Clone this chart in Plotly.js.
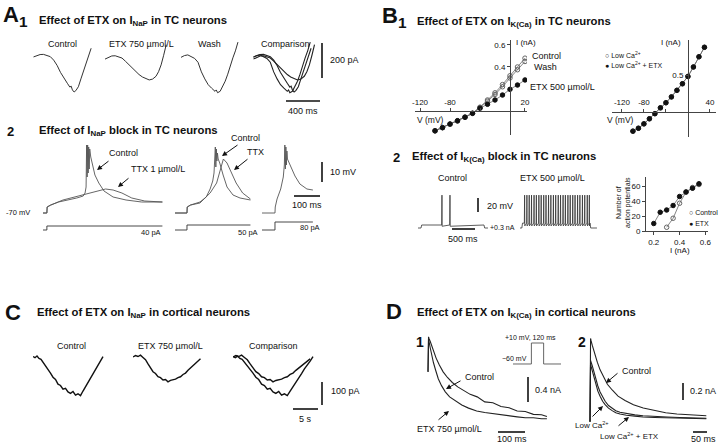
<!DOCTYPE html>
<html>
<head>
<meta charset="utf-8">
<script src="https://cdn.plot.ly/plotly-3.0.1.min.js"></script>
<style>
  html, body { margin: 0; padding: 0; background: #fff; }
  #chart { width: 720px; height: 446px; }
</style>
</head>
<body>
<div id="chart"></div>
<script>
// ETX figure: I_NaP / I_K(Ca) recordings in TC and cortical neurons

// ---- A1: I_NaP ramps, TC neurons (ms, pA)
const a1CtrlT = [0, 40, 80, 120, 160, 200, 240, 280, 320, 360, 400, 430, 445, 460, 480, 500, 530, 560, 590, 620, 650, 680];
const a1CtrlI = [0, 8, 14, 15, 8, 2, -18, -48, -88, -122, -150, -172, -166, -188, -200, -192, -170, -125, -80, -30, 10, 50];
const a1EtxT = [0, 40, 80, 120, 160, 200, 240, 280, 320, 360, 400, 440, 480, 520, 560, 600, 630, 660, 690, 720];
const a1EtxI = [-12, -2, 6, 7, 2, -6, -24, -44, -66, -84, -100, -114, -124, -131, -126, -110, -84, -45, 10, 70];
const a1WashT = [0, 40, 80, 120, 160, 200, 240, 280, 320, 360, 400, 415, 430, 460, 490, 520, 550, 580, 610, 640, 670];
const a1WashI = [-2, 8, 12, 4, -8, -30, -85, -125, -158, -178, -196, -188, -204, -196, -170, -138, -98, -45, -5, 35, 85];

// ---- A2: voltage responses to current steps (ms, mV) and the steps (ms, pA)
const a2LeftT = [0, 15, 16, 30, 60, 100, 130, 155, 162, 166, 168, 170, 172, 174, 176, 178, 180, 184, 190, 200, 215, 235, 270, 320, 380, 460];
const a2LeftCtrl = [-70, -70, -67, -66, -64.5, -63.5, -62.5, -61.5, -60, -57, -36, -52, -36, -50, -37, -48, -38, -42, -46, -51, -55, -59, -62, -63.5, -64.5, -64.5];
const a2LeftTtxT = [0, 15, 16, 30, 77, 154, 204, 241, 270, 304, 342, 392, 460];
const a2LeftTtx = [-70, -70, -67, -66, -63.5, -61, -59.5, -58, -58.5, -60, -62.5, -64, -64.5];
const a2MidT = [0, 46, 47, 60, 96, 120, 135, 145, 150, 153, 155, 157, 159, 161, 163, 166, 172, 185, 200, 223, 250, 290];
const a2MidCtrl = [-70, -70, -67, -66, -64.5, -62, -58, -54, -50, -45, -37, -47, -38, -44, -40, -43, -45, -51, -57, -61, -62.5, -63.5];
const a2MidTtxT = [0, 46, 47, 60, 96, 135, 160, 172, 180, 186, 200, 215, 235, 260, 290];
const a2MidTtx = [-70, -70, -67, -66, -65, -60, -55, -50, -46, -43, -45, -49, -55, -60, -63];
const a2RightT = [0, 50, 51, 58, 72, 82, 86, 88, 90, 92, 94, 96, 98, 102, 115, 127, 146, 173, 196];
const a2RightV = [-70, -70, -67, -63, -58, -52, -46, -36, -48, -37, -46, -39, -43, -44, -48, -51.5, -55.5, -58, -58.5];
const a2StepLeftT = [0, 15, 15, 460];
const a2StepLeftI = [0, 0, 40, 40];
const a2StepMidT = [0, 46, 46, 290];
const a2StepMidI = [0, 0, 50, 50];
const a2StepRightT = [0, 50, 50, 196];
const a2StepRightI = [0, 0, 80, 80];

// ---- B1: I-V relations (mV, nA)
const b1Volt = [-100, -90, -80, -70, -60, -50, -40, -30, -20, -10, 0, 10, 20];
const b1Ctrl = [-0.18, -0.15, -0.12, -0.09, -0.055, -0.02, 0.035, 0.10, 0.165, 0.24, 0.32, 0.40, 0.48];
const b1Wash = [-0.18, -0.15, -0.12, -0.09, -0.056, -0.022, 0.03, 0.09, 0.15, 0.22, 0.30, 0.375, 0.45];
const b1Etx = [-0.18, -0.152, -0.118, -0.088, -0.057, -0.021, 0.025, 0.061, 0.10, 0.145, 0.197, 0.236, 0.282];
const b1LowCaVolt = [-100, -90, -80, -70, -60, -50, -40, -30, -20, -10, 0, 10, 20, 30];
const b1LowCa = [-0.27, -0.23, -0.17, -0.10, -0.03, 0.05, 0.12, 0.20, 0.29, 0.38, 0.48, 0.61, 0.75, 0.88];
const b1LowCaEtx = [-0.27, -0.23, -0.17, -0.10, -0.03, 0.05, 0.12, 0.20, 0.29, 0.38, 0.48, 0.61, 0.75, 0.88];

// ---- B2: firing during a +0.3 nA step (ms, mV) and spike counts
const b2CtrlSpikes = [520, 694];
const b2EtxSpikes = [100, 150, 200, 250, 305, 355, 410, 460, 515, 565, 620, 670, 725, 775,
                     830, 880, 935, 985, 1040, 1090, 1145, 1195, 1250, 1300, 1355, 1405, 1460, 1505];
const b2CountCtrlI = [0.3, 0.35, 0.4, 0.45, 0.5, 0.55];
const b2CountCtrlN = [5, 17, 37, 52, 58, 62];
const b2CountEtxI = [0.2, 0.25, 0.3, 0.35, 0.4, 0.45, 0.5, 0.55];
const b2CountEtxN = [10, 25, 28, 34, 46, 52, 57, 63];

// ---- C: I_NaP in cortical neurons (s, pA)
const cCtrlT = [0, 0.4, 0.8, 1.2, 1.6, 2.0, 2.5, 3.0, 3.5, 4.0, 4.5, 5.0, 5.5, 6.0, 6.5, 7.0, 7.5, 8.0, 8.5, 9.0, 9.5, 10.0, 10.5, 11.0, 11.5, 12.0, 12.5, 13.0, 13.5, 14.0];
const cCtrlI = [2, -3, 4, -6, -10, -22, -38, -56, -70, -88, -98, -118, -124, -140, -136, -152, -158, -150, -166, -160, -168, -148, -130, -112, -90, -72, -52, -36, -18, 2];
const cEtxT = [0, 0.5, 1.0, 1.5, 2.0, 2.5, 3.0, 3.5, 4.0, 4.5, 5.0, 5.5, 6.0, 6.5, 7.0, 7.5, 8.0, 8.5, 9.0, 9.5, 10.0, 10.5, 11.0, 11.5, 12.0, 12.5, 13.0, 13.5];
const cEtxI = [0, 6, 2, 8, -2, -12, -30, -46, -64, -72, -86, -90, -100, -98, -108, -102, -100, -96, -90, -86, -76, -70, -58, -48, -36, -26, -16, -8];

// ---- D: I_K(Ca) tail currents in cortical neurons (ms, nA)
const d1T = [0, 2, 4, 8, 13, 20, 30, 42, 56, 72, 90, 110, 132, 156, 182, 210, 240, 270, 300, 330, 360, 390, 420, 440];
const d1Ctrl = [0.77, 1.33, 1.30, 1.26, 1.19, 1.11, 0.99, 0.88, 0.77, 0.68, 0.60, 0.53, 0.47, 0.41, 0.37, 0.29, 0.275, 0.215, 0.195, 0.145, 0.135, 0.09, 0.085, 0.055];
const d1EtxT = [0, 2, 4, 8, 13, 20, 28, 38, 50, 64, 80, 100, 125, 150, 180, 210, 240, 270, 300, 330, 360, 390, 420, 440];
const d1Etx = [0.77, 1.30, 1.25, 1.16, 1.05, 0.92, 0.80, 0.66, 0.55, 0.45, 0.37, 0.31, 0.24, 0.19, 0.145, 0.12, 0.10, 0.08, 0.065, 0.05, 0.035, 0.035, 0.02, 0.02];
const d1ProtoT = [0, 180, 180, 300, 300, 470];
const d1ProtoV = [-60, -60, 10, 10, -60, -60];
const d2CtrlT = [0, 2, 4, 8, 12, 18, 26, 36, 48, 62, 80, 100, 125, 155, 190, 230, 270, 310, 350, 390, 415];
const d2Ctrl = [-0.02, 0.96, 0.93, 0.88, 0.83, 0.76, 0.68, 0.59, 0.51, 0.42, 0.35, 0.28, 0.23, 0.18, 0.14, 0.11, 0.085, 0.07, 0.06, 0.05, 0.05];
const d2LowT = [0, 2, 4, 8, 14, 21, 28, 36, 45, 54, 66, 79, 92, 107, 130, 160, 189, 230, 275, 320, 360, 403, 415];
const d2LowCa = [-0.02, 0.70, 0.68, 0.64, 0.56, 0.47, 0.40, 0.33, 0.27, 0.22, 0.17, 0.14, 0.11, 0.09, 0.075, 0.06, 0.05, 0.04, 0.035, 0.03, 0.025, 0.02, 0.02];
const d2LowCaEtx = [-0.02, 0.66, 0.63, 0.58, 0.50, 0.41, 0.34, 0.28, 0.22, 0.18, 0.14, 0.11, 0.085, 0.07, 0.055, 0.045, 0.035, 0.03, 0.025, 0.02, 0.02, 0.015, 0.015];

// ------------------------------------------------------------------
const W = 720, H = 446;
const FONT = 'Liberation Sans, Arial, sans-serif';
const INK = '#111';
const TITLE = 11.3;

const layout = {
    width: W, height: H,
    margin: { l: 0, r: 0, t: 0, b: 0 },
    paper_bgcolor: '#fff', plot_bgcolor: 'rgba(0,0,0,0)',
    showlegend: false, hovermode: false,
    font: { family: FONT, size: 9, color: INK },
    annotations: [], shapes: []
};
const traces = [];

let axN = 0;
// subplot placed by pixel box (x0..x1, y0 top..y1 bottom)
function panel(x0, x1, y0, y1, xr, yr, xo, yo) {
    axN++;
    const s = axN === 1 ? '' : String(axN);
    layout['xaxis' + s] = Object.assign({ domain: [x0 / W, x1 / W], range: xr, anchor: 'y' + s, visible: false, fixedrange: true }, xo || {});
    layout['yaxis' + s] = Object.assign({ domain: [1 - y1 / H, 1 - y0 / H], range: yr, anchor: 'x' + s, visible: false, fixedrange: true }, yo || {});
    return { xaxis: 'x' + s, yaxis: 'y' + s };
}

function line(p, x, y, color, width) {
    traces.push({ type: 'scatter', mode: 'lines', x: x, y: y, xaxis: p.xaxis, yaxis: p.yaxis,
        line: { color: color, width: width }, hoverinfo: 'skip' });
}

function dots(p, x, y, symbol, color) {
    traces.push({ type: 'scatter', mode: 'lines+markers', x: x, y: y, xaxis: p.xaxis, yaxis: p.yaxis,
        line: { color: '#666', width: 0.8 },
        marker: { symbol: symbol, size: 4.5, color: color, line: { color: color, width: 1 } },
        hoverinfo: 'skip' });
}

function note(x, y, text, size, anchor, extra) {
    layout.annotations.push(Object.assign({
        xref: 'paper', yref: 'paper', x: x / W, y: 1 - y / H, text: text, showarrow: false,
        xanchor: anchor || 'center', yanchor: 'middle',
        font: { family: FONT, size: size || 9, color: INK }
    }, extra || {}));
}

function arrow(hx, hy, tx, ty) {
    layout.annotations.push({
        xref: 'paper', yref: 'paper', x: hx / W, y: 1 - hy / H,
        axref: 'pixel', ayref: 'pixel', ax: tx - hx, ay: ty - hy,
        text: '', showarrow: true, arrowhead: 2, arrowsize: 1, arrowwidth: 1,
        arrowcolor: INK, standoff: 0
    });
}

function bar(x0, y0, x1, y1) {
    layout.shapes.push({ type: 'line', xref: 'paper', yref: 'paper',
        x0: x0 / W, y0: 1 - y0 / H, x1: x1 / W, y1: 1 - y1 / H,
        line: { color: INK, width: 1.6 } });
}

// build a membrane trace from spike times
function spikeTrain(tEnd, tOn, tOff, spikes, rest, plateau, peak, ahp) {
    const t = [0, tOn, tOn + 15], v = [rest, rest, plateau];
    spikes.forEach(s => { t.push(s - 6, s, s + 4); v.push(plateau, peak, ahp); });
    t.push(tOff, tOff + 15, tEnd);
    v.push(plateau, rest, rest);
    return { t, v };
}

// ---- Panel A1
note(1, 0, '<b>A<sub>1</sub></b>', 22, 'left', { yanchor: 'top' });
note(37, 21, '<b>Effect of ETX on I<sub>NaP</sub> in TC neurons</b>', TITLE, 'left');
const a1Y = [-245.5, 108.5];
const pA1c = panel(33.3, 93, 38, 100, [0, 702], a1Y);
const pA1e = panel(105, 168, 38, 100, [0, 741], a1Y);
const pA1w = panel(181, 240, 38, 100, [0, 694], a1Y);
const pA1m = panel(253.3, 315, 38, 100, [0, 726], a1Y);
line(pA1c, a1CtrlT, a1CtrlI, '#333', 1);
line(pA1e, a1EtxT, a1EtxI, '#333', 1);
line(pA1w, a1WashT, a1WashI, '#333', 1);
line(pA1m, a1CtrlT, a1CtrlI, '#222', 1.1);
line(pA1m, a1WashT, a1WashI, '#222', 1.1);
line(pA1m, a1EtxT, a1EtxI, '#222', 1.1);
note(63, 44, 'Control');
note(141, 44, 'ETX 750 µmol/L');
note(209, 44, 'Wash');
note(285, 44, 'Comparison');
bar(322, 43, 322, 78); note(328, 60, '200 pA', 9, 'left');
bar(286, 101, 320, 101); note(303, 111, '400 ms');

// ---- Panel A2
note(5, 131, '<b>2</b>', 13, 'left');
note(37, 131, '<b>Effect of I<sub>NaP</sub> block in TC neurons</b>', TITLE, 'left');
const a2Y = [-71.5, -31];
const a2S = [-20, 120];
const pA2l = panel(43, 165, 135, 216, [0, 470], a2Y);
const pA2m = panel(175, 252, 135, 216, [0, 296], a2Y);
const pA2r = panel(262, 316, 135, 216, [0, 208], a2Y);
const pA2ls = panel(43, 165, 218, 232, [0, 470], a2S);
const pA2ms = panel(175, 252, 218, 232, [0, 296], a2S);
const pA2rs = panel(262, 316, 218, 232, [0, 208], a2S);
line(pA2l, a2LeftTtxT, a2LeftTtx, '#555', 0.9);
line(pA2l, a2LeftT, a2LeftCtrl, '#555', 0.9);
line(pA2m, a2MidTtxT, a2MidTtx, '#555', 0.9);
line(pA2m, a2MidT, a2MidCtrl, '#555', 0.9);
line(pA2r, a2RightT, a2RightV, '#555', 0.9);
line(pA2ls, a2StepLeftT, a2StepLeftI, '#333', 0.9);
line(pA2ms, a2StepMidT, a2StepMidI, '#333', 0.9);
line(pA2rs, a2StepRightT, a2StepRightI, '#333', 0.9);
note(32, 212, '-70 mV', 7.5, 'right');
note(123, 153, 'Control');
note(158, 169, 'TTX 1 µmol/L');
note(245, 138, 'Control');
note(255, 152, 'TTX');
arrow(97, 170, 110, 160);
arrow(118, 187, 130, 177);
arrow(222, 156, 239, 144);
arrow(234, 170, 249, 158);
note(163, 233, '40 pA', 7.5, 'right');
note(260, 233, '50 pA', 7.5, 'right');
note(310, 227, '80 pA', 7.5);
bar(322, 162, 322, 182); note(328, 172, '10 mV', 9, 'left');
bar(294, 196, 320, 196); note(307, 205, '100 ms');

// ---- Panel B1
note(380, 1, '<b>B<sub>1</sub></b>', 22, 'left', { yanchor: 'top' });
note(415, 22, '<b>Effect of ETX on I<sub>K(Ca)</sub> in TC neurons</b>', TITLE, 'left');
function ivX(posY, tv, tt) {
    return { visible: true, anchor: 'free', position: 1 - posY / H, side: 'top',
        showline: true, linecolor: '#444', linewidth: 1, ticks: 'outside', ticklen: 3, tickcolor: '#444',
        tickvals: tv, ticktext: tt, tickfont: { size: 8, family: FONT, color: INK },
        showgrid: false, zeroline: false };
}
function ivY(posX, tv) {
    return { visible: true, anchor: 'free', position: posX / W, side: 'left',
        showline: true, linecolor: '#444', linewidth: 1, ticks: 'outside', ticklen: 3, tickcolor: '#444',
        tickvals: tv, tickfont: { size: 8, family: FONT, color: INK },
        showgrid: false, zeroline: false };
}
const pB1l = panel(415, 527, 40, 135, [-126.7, 22.7], [-0.218, 0.645],
    ivX(111, [-120, -80, -40, 20], ['-120', '-80', '', '20']), ivY(510, [0.4, 0.6]));
dots(pB1l, b1Volt, b1Ctrl, 'circle-open', '#666');
dots(pB1l, b1Volt, b1Wash, 'circle-open', '#666');
dots(pB1l, b1Volt, b1Etx, 'circle', '#111');
note(514, 43, 'I (nA)', 8, 'left');
note(415, 120, 'V (mV)', 8.5, 'left');
note(530, 56, 'Control', 9, 'left');
note(532, 67, 'Wash', 9, 'left');
note(528, 87, 'ETX 500 µmol/L', 9, 'left');

const pB1r = panel(612, 716, 40, 137, [-138, 51], [-0.35, 0.98],
    ivX(111.5, [-120, -80, -40, 40], ['-120', '-80', '', '40']), ivY(688, [0.5]));
dots(pB1r, b1LowCaVolt, b1LowCa, 'circle-open', '#666');
dots(pB1r, b1LowCaVolt, b1LowCaEtx, 'circle', '#111');
note(683, 43, 'I (nA)', 8, 'right');
note(605, 120, 'V (mV)', 8.5, 'left');
note(603, 55, '○ Low Ca<sup>2+</sup>', 7, 'left');
note(603, 65, '● Low Ca<sup>2+</sup> + ETX', 7, 'left');

// ---- Panel B2
note(391, 157, '<b>2</b>', 13, 'left');
note(410, 157, '<b>Effect of I<sub>K(Ca)</sub> block in TC neurons</b>', TITLE, 'left');
const b2Y = [-80.7, -20.7];
const pB2c = panel(418, 492, 190, 232, [0, 1606], b2Y);
const pB2e = panel(520, 600, 190, 232, [0, 1736], b2Y);
const b2Ctrl = spikeTrain(1519, 65, 1432, b2CtrlSpikes, -75, -70.7, -28, -72.5);
const b2Etx = spikeTrain(1670, 40, 1519, b2EtxSpikes, -75, -68, -28, -72);
line(pB2c, b2Ctrl.t, b2Ctrl.v, '#333', 0.8);
line(pB2e, b2Etx.t, b2Etx.v, '#333', 0.8);
note(452, 178, 'Control');
note(552, 178, 'ETX 500 µmol/L');
note(488, 227, '+0.3 nA', 7, 'left');
bar(478, 198, 478, 212); note(485, 206, '20 mV', 9, 'left');
bar(452, 229, 475, 229); note(463, 239, '500 ms');

const pB2n = panel(646, 708, 177, 231, [0.14, 0.62], [0, 72],
    { visible: true, showline: true, linecolor: '#444', ticks: 'outside', ticklen: 3, tickcolor: '#444',
      tickvals: [0.2, 0.4, 0.6], tickfont: { size: 8, family: FONT, color: INK }, showgrid: false, zeroline: false },
    { visible: true, showline: true, linecolor: '#444', ticks: 'outside', ticklen: 3, tickcolor: '#444',
      tickvals: [0, 20, 40, 60], tickfont: { size: 8, family: FONT, color: INK }, showgrid: false, zeroline: false });
dots(pB2n, b2CountCtrlI, b2CountCtrlN, 'circle-open', '#666');
dots(pB2n, b2CountEtxI, b2CountEtxN, 'circle', '#111');
note(623, 203, 'Number of<br>action potentials', 7, 'center', { textangle: -90 });
note(680, 251, 'I (nA)', 8);
note(687, 212, '○ Control', 7, 'left');
note(687, 223, '● ETX', 7, 'left');

// ---- Panel C
note(3, 312, '<b>C</b>', 22, 'left');
note(35, 313, '<b>Effect of ETX on I<sub>NaP</sub> in cortical neurons</b>', TITLE, 'left');
const cY = [-195.7, 30.4];
const pCc = panel(33, 105, 350, 402, [0, 14.4], cY);
const pCe = panel(133, 203, 350, 402, [0, 14], cY);
const pCm = panel(233, 315, 350, 402, [0, 14.35], cY);
line(pCc, cCtrlT, cCtrlI, '#111', 1.4);
line(pCe, cEtxT, cEtxI, '#111', 1.4);
line(pCm, cCtrlT, cCtrlI, '#111', 1.4);
line(pCm, cEtxT, cEtxI, '#111', 1.4);
note(71, 346, 'Control');
note(170, 346, 'ETX 750 µmol/L');
note(273, 346, 'Comparison');
bar(322, 382, 322, 405); note(329, 391, '100 pA', 9, 'left');
bar(293, 409, 318, 409); note(305, 419, '5 s');

// ---- Panel D
note(384, 311, '<b>D</b>', 22, 'left');
note(415, 313, '<b>Effect of ETX on I<sub>K(Ca)</sub> in cortical neurons</b>', TITLE, 'left');
note(414, 342, '<b>1</b>', 14, 'left');
note(576, 342, '<b>2</b>', 14, 'left');
const pD1 = panel(425, 548, 330, 425, [-11.1, 444], [-0.08, 1.44]);
line(pD1, d1T, d1Ctrl, '#222', 1.1);
line(pD1, d1EtxT, d1Etx, '#222', 1.1);
const pD1p = panel(513, 561, 340, 366, [0, 470], [-66.7, 20]);
line(pD1p, d1ProtoT, d1ProtoV, '#555', 0.9);
note(530, 337, '+10 mV, 120 ms', 7);
note(514, 358, '−60 mV', 7);
note(463, 377, 'Control', 9, 'left');
note(415, 429, 'ETX 750 µmol/L', 9, 'left');
arrow(446, 389, 462, 380);
arrow(449, 411, 437, 421);
bar(528, 377, 528, 402); note(533, 390, '0.4 nA', 9, 'left');
bar(498, 432, 525, 432); note(512, 446, '100 ms', 9, 'center', { yanchor: 'bottom' });

const pD2 = panel(587, 708, 330, 425, [-10.7, 421], [-0.059, 1.059]);
line(pD2, d2CtrlT, d2Ctrl, '#222', 1.1);
line(pD2, d2LowT, d2LowCa, '#222', 1.1);
line(pD2, d2LowT, d2LowCaEtx, '#222', 1.1);
note(620, 371, 'Control', 9, 'left');
note(573, 425, 'Low Ca<sup>2+</sup>', 8, 'left');
note(598, 436, 'Low Ca<sup>2+</sup> + ETX', 8, 'left');
arrow(606, 383, 619, 372);
arrow(603, 406, 591, 418);
arrow(629, 417, 617, 427);
bar(683, 383, 683, 400); note(688, 391, '0.2 nA', 9, 'left');
bar(693, 432, 707, 432); note(703, 446, '50 ms', 9, 'center', { yanchor: 'bottom' });

Plotly.newPlot('chart', traces, layout, { displayModeBar: false, staticPlot: true, responsive: false });
</script>
</body>
</html>
